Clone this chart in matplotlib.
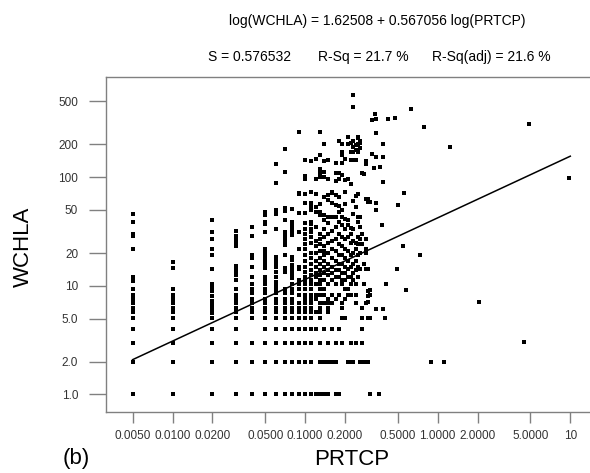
import numpy as np
import matplotlib.pyplot as plt

plt.rcParams['font.family'] = ['Liberation Sans', 'DejaVu Sans']

# fitted line from the header equation
b0 = 1.62508
b1 = 0.567056
fit_x = [0.005, 10]

x_ticks = [0.005, 0.01, 0.02, 0.05, 0.1, 0.2, 0.5, 1, 2, 5, 10]
x_labels = ['0.0050', '0.0100', '0.0200', '0.0500', '0.1000', '0.2000',
            '0.5000', '1.0000', '2.0000', '5.0000', '10']
y_ticks = [1, 2, 5, 10, 20, 50, 100, 200, 500]
y_labels = ['1.0', '2.0', '5.0', '10', '20', '50', '100', '200', '500']

# WCHLA readings, one list per PRTCP value
w_0050 = [1, 2, 3, 4, 5.1, 5.7, 6.3, 6.9, 7.5, 8.3, 9.3, 11, 11.5, 12, 22, 29, 30, 39, 46]
w_0100 = [1, 2, 3, 4, 5.1, 5.7, 6.3, 6.9, 7.5, 8.3, 9.3, 14.5, 16.4]
w_0200 = [1, 2, 3, 4, 5.1, 5.6, 6.1, 6.6, 7.2, 8.1, 9, 9.8, 10.3, 14.3, 19, 22, 27, 31.5, 40]
w_0300 = [1, 2, 3, 4, 5.1, 5.7, 6.3, 6.9, 7.5, 8.3, 9.3, 11.3, 12.6, 13.5, 14.3, 15.3,
          23, 24.6, 27, 29, 32]
w_0400 = [1, 2, 3, 5.1, 5.7, 6.3, 6.9, 7.6, 8.5, 9.3, 10.3, 12.1, 15, 17.9, 19, 29, 35]
w_0500 = [1, 2, 3, 4, 5.1, 5.7, 6.3, 6.9, 7.6, 8.5, 9.3, 10.3, 11, 12, 14.6, 15.5, 16.6,
          17.9, 19, 20.5, 22, 31.5, 37, 39, 45, 48]
w_0600 = [1, 2, 3, 4, 5.1, 5.7, 6.3, 6.9, 7.6, 8.5, 9.3, 10.2, 10.9, 12.1, 13.5, 15, 16,
          17.3, 18.5, 33, 46, 50, 88, 132]
w_0700 = [1, 2, 3, 4, 5.1, 5.7, 6.3, 6.9, 7.6, 8.5, 9.3, 13.3, 13.9, 14.6, 19, 23.7, 25.5,
          27.3, 29.3, 31.5, 40, 49, 52, 111, 181]
w_0800 = [1, 2, 3, 4, 5.1, 5.7, 6.3, 6.9, 7.6, 8.5, 9.3, 10.3, 11.7, 12.6, 13.5, 14.5, 15.5,
          17.3, 18.5, 29.3, 31.5, 33.7, 36, 39, 51]
w_0900 = [1, 2, 3, 4, 5.1, 5.7, 6.3, 6.9, 8.3, 9.3, 10.3, 11.3, 14.3, 15, 22, 31, 47, 70, 72, 258]
w_1000 = [1, 2, 3, 4, 5.1, 5.7, 6.3, 6.9, 7.5, 8.3, 9.3, 10.3, 11.3, 12, 13.5, 15, 17, 19, 22,
          24, 27, 30, 33, 38, 47, 58, 70, 95, 103, 145]
w_1100 = [1, 2, 3, 4, 5.1, 5.7, 6.3, 6.9, 7.5, 8.3, 9.3, 10.3, 11.3, 12.5, 14, 16, 18, 20, 25,
          28, 31, 33, 37, 39, 50, 54, 58, 73, 140]
w_1200 = [1, 4, 5.7, 7.5, 8.3, 10.3, 12, 13, 15, 17, 20, 23, 26, 35, 48, 53, 70, 97, 148]
w_1300 = [1, 2, 3, 5.1, 5.7, 6.3, 6.9, 8.3, 9.3, 10.3, 11.3, 12.6, 14, 16, 18, 21, 24, 27, 30,
          45, 48, 57, 100, 110, 118, 160, 258]
w_1400 = [1, 2, 4, 6.9, 8.3, 9.3, 11.3, 13, 15, 17, 19, 21, 23, 28, 33, 40, 45, 66, 100, 112,
          140, 202]
w_1500 = [1, 2, 3, 5.7, 6.3, 6.9, 7.5, 10.3, 12.5, 14, 16, 20, 25, 30, 38, 43, 62, 68, 97, 145]
w_1600 = [2, 4, 6.9, 8.3, 11.3, 13, 15, 18, 22, 26, 32, 43, 58, 71, 73]
w_1700 = [1, 2, 3, 7.5, 10.3, 12, 14, 17, 21, 27, 35, 43, 55, 68, 93, 110, 135]
w_1800 = [1, 4, 8.3, 12, 14, 16, 19, 24, 30, 39, 48, 54, 65, 97, 110, 213]
w_1900 = [3, 5.1, 6.3, 6.9, 10.3, 11.3, 13, 16, 19, 23, 28, 36, 43, 50, 104, 135, 160, 171, 200]
w_2000 = [5.1, 7.5, 9.3, 11.3, 13, 15, 18, 22, 27, 33, 41, 57, 73, 94, 148]
w_2100 = [2, 8.3, 9.3, 12, 14.2, 17, 21, 28, 36, 40, 97, 200, 232]
w_2200 = [2, 3, 8.3, 10.3, 12, 15, 19, 25, 30, 34, 86, 145, 171, 205]
w_2300 = [2, 11.3, 13, 16, 20, 26, 33, 46, 60, 144, 171, 190, 213, 444, 569]
w_2400 = [3, 6.9, 8.3, 10.3, 14, 17, 22, 25, 53, 67, 145, 178, 197]
w_2500 = [12, 15, 19, 24, 28, 39, 43, 70, 171, 200, 228, 232]
w_2600 = [2, 14.2, 20, 27, 35, 43, 184, 205, 213]
w_2700 = [3, 4, 5.1, 6.3, 24, 30, 108]
w_2800 = [2, 10.3, 16, 106]
w_2900 = [2, 6.9, 14.2, 20, 22, 27, 63, 132, 138, 140]
w_3000 = [2, 5.1, 7.1, 8.1, 9, 14.3, 59, 63]

# scattered points with larger PRTCP
p_sparse = [0.31, 0.36, 0.89, 1.12, 0.31, 0.40, 0.34, 0.39, 0.31, 0.31, 0.41, 0.58, 0.49,
            0.55, 0.74, 0.38, 0.34, 0.34, 0.31, 0.50, 0.56, 0.39, 0.33, 0.37, 0.32, 0.34,
            0.39, 0.39, 0.34, 0.34, 0.32, 0.335, 0.42, 0.48, 0.63, 0.79, 1.24, 4.9, 9.8,
            2.06, 4.48]
w_sparse = [1, 1, 2, 2, 5.1, 5.1, 6.1, 6.1, 9.1, 8.2, 10.4, 9.2, 14.3,
            23, 19, 36, 50, 58, 59, 55, 71, 90, 122, 123, 162, 154,
            154, 200, 253, 342, 335, 378, 342, 350, 421, 289, 190, 308, 99,
            7.1, 3.04]

columns = [(0.005, w_0050), (0.01, w_0100), (0.02, w_0200), (0.03, w_0300), (0.04, w_0400),
           (0.05, w_0500), (0.06, w_0600), (0.07, w_0700), (0.08, w_0800), (0.09, w_0900),
           (0.10, w_1000), (0.11, w_1100), (0.12, w_1200), (0.13, w_1300), (0.14, w_1400),
           (0.15, w_1500), (0.16, w_1600), (0.17, w_1700), (0.18, w_1800), (0.19, w_1900),
           (0.20, w_2000), (0.21, w_2100), (0.22, w_2200), (0.23, w_2300), (0.24, w_2400),
           (0.25, w_2500), (0.26, w_2600), (0.27, w_2700), (0.28, w_2800), (0.29, w_2900),
           (0.30, w_3000)]

px = []
py = []
for p, ws in columns:
    px += [p] * len(ws)
    py += ws
px += p_sparse
py += w_sparse

fig = plt.figure(figsize=(5.9, 4.73), dpi=100)
ax = fig.add_axes([106 / 590, 1 - 412 / 473, 484 / 590, 335 / 473])

ax.scatter(px, py, marker='s', s=10, c='black', linewidths=0, zorder=3)
fx = np.array(fit_x)
ax.plot(fx, 10 ** (b0 + b1 * np.log10(fx)), color='black', lw=1.1, zorder=4)

ax.set_xscale('log')
ax.set_yscale('log')
ax.set_xlim(0.00315, 14.08)
ax.set_ylim(0.69, 833)
ax.set_xticks(x_ticks)
ax.set_xticklabels(x_labels)
ax.set_yticks(y_ticks)
ax.set_yticklabels(y_labels)
ax.minorticks_off()
ax.tick_params(axis='y', direction='out', length=12, width=1, color='#808080',
               labelcolor='#333333', labelsize=8.5, pad=8)
ax.tick_params(axis='x', direction='out', length=8, width=1, color='#808080',
               labelcolor='#333333', labelsize=8.5, pad=5)
for side in ['left', 'bottom', 'top']:
    ax.spines[side].set_color('#808080')
    ax.spines[side].set_linewidth(1)
ax.spines['right'].set_visible(False)

fig.text(377 / 590, 1 - 25 / 473, 'log(WCHLA) = 1.62508 + 0.567056 log(PRTCP)',
         ha='center', va='baseline', fontsize=10)
fig.text(208 / 590, 1 - 61 / 473, 'S = 0.576532', ha='left', va='baseline', fontsize=10)
fig.text(318 / 590, 1 - 61 / 473, 'R-Sq = 21.7 %', ha='left', va='baseline', fontsize=10)
fig.text(432 / 590, 1 - 61 / 473, 'R-Sq(adj) = 21.6 %', ha='left', va='baseline', fontsize=10)

fig.text(23 / 590, 1 - 247 / 473, 'WCHLA', rotation=90, ha='center', va='center', fontsize=16)
fig.text(352 / 590, 1 - 459 / 473, 'PRTCP', ha='center', va='center', fontsize=16)
fig.text(76 / 590, 1 - 458 / 473, '(b)', ha='center', va='center', fontsize=16)

fig.savefig('out.png', dpi=100)
